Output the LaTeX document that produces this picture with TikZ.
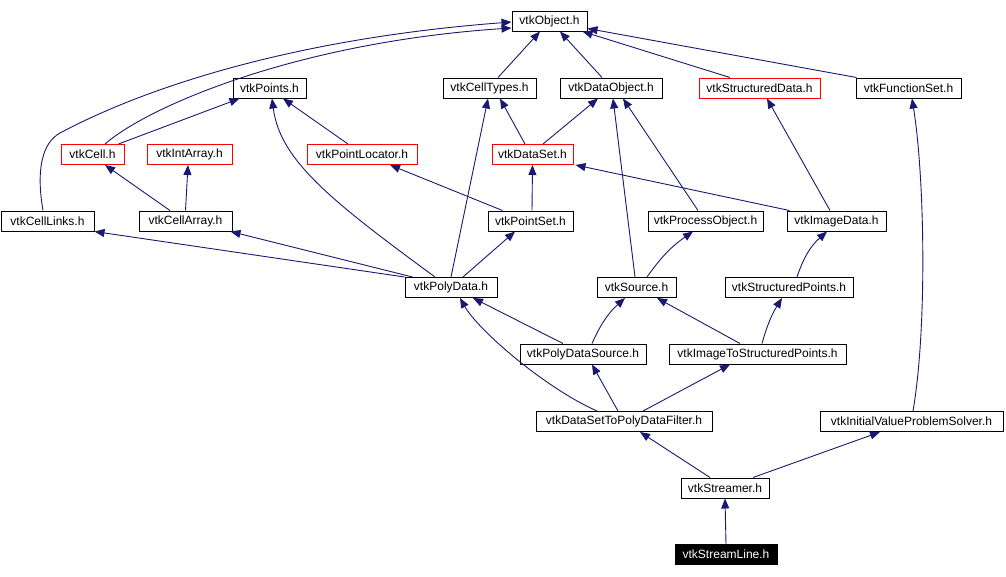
\documentclass[tikz,border=0pt]{standalone}
\usepackage{fontspec}
\setmainfont{Liberation Sans}
\definecolor{linkblue}{HTML}{191970}
\usepackage{tikz}
\usetikzlibrary{arrows.meta, calc}
\tikzset{
	filenode/.style={
			draw=black,
			line width=1pt,
			fill=white,
			minimum height=20pt,
			inner sep=0pt,
			font=\fontsize{12}{14}\selectfont
		},
	rednode/.style={
			filenode,
			draw=red
		},
	focusnode/.style={
			filenode,
			fill=black,
			text=white
		},
	inclink/.style={
			draw=linkblue,
			line width=0.9pt,
			-{Triangle[length=10pt,width=8pt]}
		}
}

\begin{document}
\begin{tikzpicture}[x=1pt, y=-1pt]
				\useasboundingbox (0,0) rectangle (1006,576);

				\node[filenode, minimum width=75pt] at (549.5,21) (object) {vtkObject.h};

				\node[filenode, minimum width=73pt] at (269.5,88) (points) {vtkPoints.h};
				\node[filenode, minimum width=93pt] at (489.5,88) (celltypes) {vtkCellTypes.h};
				\node[filenode, minimum width=102pt] at (611,88) (dataobject) {vtkDataObject.h};
				\node[rednode, minimum width=121pt] at (759.5,88) (structureddata) {vtkStructuredData.h};
				\node[filenode, minimum width=105pt] at (908.5,88) (functionset) {vtkFunctionSet.h};

				\node[rednode, minimum width=63pt] at (92.5,154.5) (cell) {vtkCell.h};
				\node[rednode, minimum width=85pt] at (189.5,154.5) (intarray) {vtkIntArray.h};
				\node[rednode, minimum width=110pt] at (362,154.5) (pointlocator) {vtkPointLocator.h};
				\node[rednode, minimum width=81pt] at (532.5,154.5) (dataset) {vtkDataSet.h};

				\node[filenode, minimum width=93pt] at (47.5,221) (celllinks) {vtkCellLinks.h};
				\node[filenode, minimum width=93pt] at (185.5,221) (cellarray) {vtkCellArray.h};
				\node[filenode, minimum width=85pt] at (530.5,221) (pointset) {vtkPointSet.h};
				\node[filenode, minimum width=115pt] at (705.5,221) (processobject) {vtkProcessObject.h};
				\node[filenode, minimum width=99pt] at (836.5,221) (imagedata) {vtkImageData.h};

				\node[filenode, minimum width=92pt] at (451,287.5) (polydata) {vtkPolyData.h};
				\node[filenode, minimum width=79pt] at (636.5,287.5) (source) {vtkSource.h};
				\node[filenode, minimum width=128pt] at (789,287.5) (structuredpoints) {vtkStructuredPoints.h};

				\node[filenode, minimum width=126pt] at (583,354) (polydatasource) {vtkPolyDataSource.h};
				\node[filenode, minimum width=177pt] at (757.5,354) (imagetosp) {vtkImageToStructuredPoints.h};

				\node[filenode, minimum width=176pt] at (624,421.5) (dstpdf) {vtkDataSetToPolyDataFilter.h};
				\node[filenode, minimum width=183pt] at (911.5,421.5) (ivps) {vtkInitialValueProblemSolver.h};

				\node[filenode, minimum width=88pt] at (725,488) (streamer) {vtkStreamer.h};
				\node[focusnode, minimum width=102pt] at (726,554.5) (streamline) {vtkStreamLine.h};

				\draw[inclink] ([xshift=8.5pt]celltypes.north) -- ([xshift=-9.5pt]object.south);
				\draw[inclink] ([xshift=-9pt]dataobject.north) -- ([xshift=10.5pt]object.south);
				\draw[inclink] ([xshift=-29.5pt]structureddata.north) -- ([xshift=-5pt]object.south east);
				\draw[inclink] ([xshift=1pt]functionset.north west) -- ([yshift=3pt]object.south east);
				\draw[inclink] ([xshift=12.5pt]cell.north) .. controls (150,105) and (300,42) .. ([yshift=-7pt]object.west);
				\draw[inclink] ([xshift=-4.5pt]celllinks.north) .. controls (36,170) and (42,143) .. (60,133)
					.. controls (150,85) and (300,38) .. ([yshift=-1pt]object.west);

				\draw[inclink] ([xshift=-6pt]cell.north east) -- ([xshift=7pt]points.south west);
				\draw[inclink] ([xshift=-14pt]pointlocator.north) -- ([xshift=13.5pt]points.south);
				\draw[inclink] ([xshift=-16pt]polydata.north) .. controls (330,200) and (280,160) .. ([xshift=2.5pt]points.south);

				\draw[inclink] (polydata.north) -- ([xshift=-1.5pt]celltypes.south);
				\draw[inclink] ([xshift=-7.5pt]dataset.north) -- ([xshift=10.5pt]celltypes.south);
				\draw[inclink] ([xshift=10.5pt]dataset.north) -- ([xshift=-13pt]dataobject.south);
				\draw[inclink] ([xshift=-1.5pt]source.north) -- ([xshift=2pt]dataobject.south);
				\draw[inclink] ([xshift=-7.5pt]processobject.north) -- ([xshift=12pt]dataobject.south);
				\draw[inclink] ([xshift=-6.5pt]imagedata.north) -- ([xshift=7.5pt]structureddata.south);
				\draw[inclink] ([xshift=1.5pt]ivps.north) .. controls (927,330) and (925,180) .. ([xshift=3.5pt]functionset.south);

				\draw[inclink] ([xshift=-15.5pt]cellarray.north) -- ([xshift=12.5pt]cell.south);
				\draw[inclink] (cellarray.north) -- ([xshift=-1.5pt]intarray.south);
				\draw[inclink] ([xshift=15pt]pointset.north west) -- ([xshift=28pt]pointlocator.south);
				\draw[inclink] ([xshift=1.5pt]pointset.north) -- (dataset.south);
				\draw[inclink] ([xshift=3pt]imagedata.north west) -- ([xshift=2pt]dataset.south east);

				\draw[inclink] (polydata.north west) -- (celllinks.south east);
				\draw[inclink] ([xshift=8pt]polydata.north west) -- ([xshift=-2pt]cellarray.south east);
				\draw[inclink] ([xshift=12pt]polydata.north) -- ([xshift=-15.5pt]pointset.south);
				\draw[inclink] ([xshift=10.5pt]source.north) to[bend left=10] ([xshift=-12.5pt]processobject.south);
				\draw[inclink] ([xshift=8pt]structuredpoints.north) to[bend left=15] ([xshift=-9.5pt]imagedata.south);

				\draw[inclink] ([xshift=-20pt]polydatasource.north) -- ([xshift=22pt]polydata.south);
				\draw[inclink] ([xshift=9pt]polydatasource.north) to[bend left=12] ([xshift=-11.5pt]source.south);
				\draw[inclink] ([xshift=-17.5pt]imagetosp.north) -- ([xshift=20.5pt]source.south);
				\draw[inclink] ([xshift=4.5pt]imagetosp.north) to[bend left=8] ([xshift=-7pt]structuredpoints.south);

				\draw[inclink] ([xshift=-27pt]dstpdf.north) .. controls (545,388) and (478,330) .. ([xshift=9pt]polydata.south);
				\draw[inclink] ([xshift=-6pt]dstpdf.north) -- ([xshift=9pt]polydatasource.south);
				\draw[inclink] ([xshift=19pt]dstpdf.north) -- ([xshift=-27.5pt]imagetosp.south);

				\draw[inclink] ([xshift=-15pt]streamer.north) -- ([xshift=16pt]dstpdf.south);
				\draw[inclink] ([xshift=28pt]streamer.north) -- ([xshift=-31.5pt]ivps.south);
				\draw[inclink] (streamline.north) -- (streamer.south);
			\end{tikzpicture}
\end{document}
